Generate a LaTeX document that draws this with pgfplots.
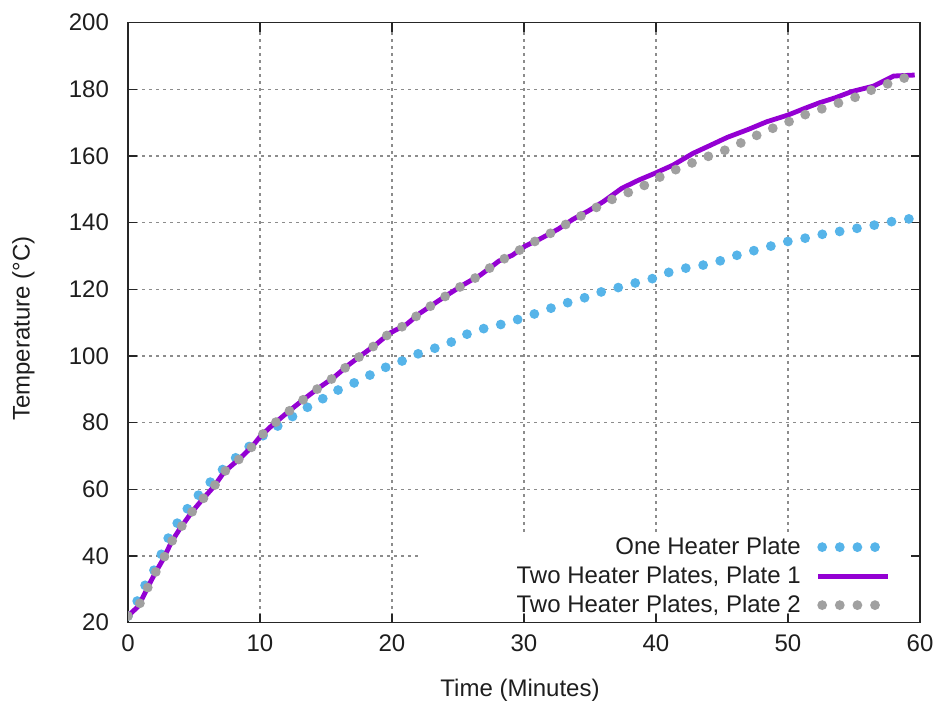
\documentclass[border=0pt]{standalone}
\usepackage{fontspec}
\setmainfont{Liberation Sans}
\usepackage{pgfplots}
\pgfplotsset{compat=1.18}
\definecolor{oneblue}{HTML}{56B4E9}
\definecolor{plateone}{HTML}{9400D3}
\definecolor{platetwo}{HTML}{A0A0A0}
\definecolor{txt}{HTML}{1E1E1E}

\tikzset{
  dotline/.style={line width=4.9pt, line cap=round, dash pattern=on 0pt off 8.8pt},
}
\pgfplotsset{
  dotlegend/.style={legend image code/.code={\draw[##1] (2pt,0pt) -- (31pt,0pt);}},
  linelegend/.style={legend image code/.code={\draw[##1] (0pt,0pt) -- (35pt,0pt);}},
}

\begin{document}
\begin{tikzpicture}
\path[use as bounding box] (-64pt,-42.15pt) rectangle (403.5pt,311.35pt);
\begin{axis}[
  scale only axis, width=396pt, height=300pt,
  xmin=0, xmax=60, ymin=20, ymax=200,
  xtick distance=10, ytick distance=20,
  tick align=inside, major tick length=4.5pt,
  axis line style={black!85, line width=0.7pt},
  every tick/.style={black!85, line width=0.7pt},
  grid=major,
  major grid style={dash pattern=on 1.5pt off 2pt, color=black!45, line width=0.55pt},
  tick label style={font=\fontsize{12}{14}\selectfont, text=txt},
  /pgf/number format/assume math mode=true,
  xticklabel shift=2.5pt, yticklabel shift=6pt,
  label style={font=\fontsize{12}{14}\selectfont, text=txt},
  xlabel={Time (Minutes)},
  ylabel={Temperature (°C)},
  xlabel style={at={(axis description cs:0.495,-0.112)}, anchor=center},
  ylabel style={at={(axis description cs:-0.132,0.49)}, anchor=center},
  legend plot pos=right, legend cell align=right,
  legend style={draw=none, fill=none, font=\fontsize{12}{14}\selectfont, text=txt,
    at={(axis description cs:0.9634,0.1508)}, anchor=north east,
    inner sep=0pt, row sep=0pt, column sep=7.5pt,
    nodes={minimum height=14.5pt, inner sep=0pt}},
]
\fill[white] (axis cs:22,23.4) rectangle (axis cs:59.3,47.2);

\addplot[oneblue, dotline, dotlegend] coordinates {
(0,22) (0.9,27.8) (1.5,33) (2.2,37.1) (2.7,42.3) (3.3,47.6) (4.1,51.8)
(4.8,56) (5.7,59.8) (6.6,63.8) (7.6,67.6) (8.7,71.3) (10,75.5) (11,78.2)
(11.9,80.3) (13.1,83.6) (14.4,86.3) (15.5,89.1) (16.8,91.3) (18,93.6)
(19.3,96.3) (20.5,98) (21.7,100.3) (23,102) (24.3,103.8) (25.5,106.3)
(26.7,108) (28.1,109.3) (29.4,110.8) (30.7,112.5) (32,114.3) (33.3,116)
(34.6,117.5) (35.9,119.3) (37.2,120.6) (38.5,122) (39.8,123.3) (41.1,125.3)
(42.4,126.5) (43.6,127.3) (45.1,128.8) (46.4,130.6) (47.6,131.8) (49,133.3)
(50.2,134.6) (51.5,135.5) (52.9,136.8) (54.3,137.6) (55.6,138.6) (57,139.6)
(58.4,140.8) (59.5,141.3)
};
\addlegendentry{One Heater Plate}

\addplot[plateone, line width=2.4pt, linelegend] coordinates {
(0,22) (0.8,25) (1.4,29.8) (2,34.5) (2.7,39.3) (3.3,44.3) (3.9,48) (4.8,53)
(5.6,56.8) (6.5,60.8) (7.3,65.3) (8.4,69) (9.4,72.8) (10,75.8) (11,79.5)
(12.3,83.8) (13.4,87.3) (14.4,90.3) (15.6,93.6) (16.7,97.3) (17.7,100.3)
(18.8,103.5) (19.8,106.8) (21.1,109.5) (22.1,112.8) (23.3,116) (24.3,118.6)
(25.5,121.6) (26.7,124.3) (28.1,128.5) (29.1,130.2) (30.1,133) (31.2,135.1)
(32.6,138.1) (33.7,141) (34.9,143.6) (36,146.3) (37.4,150.3) (38.7,152.8)
(39.9,154.8) (41.3,157.3) (42.8,160.8) (44,163) (45.4,165.6) (47,168)
(48.4,170.3) (50,172.3) (51.2,174.2) (52.4,176) (53.6,177.5) (54.8,179.3)
(56.5,181) (58,184) (59.6,184.3)
};
\addlegendentry{Two Heater Plates, Plate 1}

\addplot[platetwo, dotline, dotlegend] coordinates {
(0,22) (0.8,25) (1.4,29.8) (2,34.5) (2.7,39.3) (3.3,44.3) (3.9,48) (4.8,53)
(5.6,56.8) (6.5,60.8) (7.3,65.3) (8.4,69) (9.4,72.8) (10,75.8) (11,79.5)
(12.3,83.8) (13.4,87.3) (14.4,90.3) (15.6,93.6) (16.7,97.3) (17.7,100.3)
(18.8,103.5) (19.8,106.8) (21.1,109.5) (22.1,112.8) (23.3,116) (24.3,118.6)
(25.5,121.6) (26.7,124.3) (28.1,128.5) (29.1,130.2) (30.1,133) (31.2,135.1)
(32.6,138.1) (33.7,140.8) (34.9,143.2) (36,145.8) (37.4,148.3) (38.7,150.3)
(40.9,155) (42.2,157) (43.5,159.3) (44.8,161) (46.1,163.3) (47.3,165.6)
(48.5,167.8) (49.8,169.8) (51,172) (52.3,173.8) (53.6,175.6) (54.9,177.3)
(56.2,179.6) (57.3,181.3) (58.7,183.3) (59.5,184)
};
\addlegendentry{Two Heater Plates, Plate 2}
\end{axis}
\end{tikzpicture}
\end{document}
